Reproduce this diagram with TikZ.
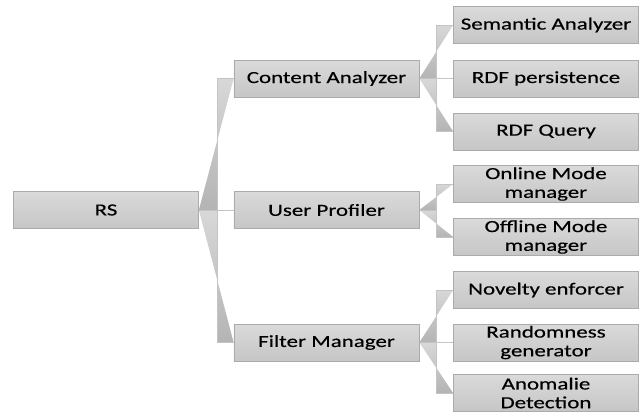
\documentclass[tikz,border=0pt]{standalone}
\usepackage{fontspec}
\newfontfamily\lbl[FakeStretch=1.35,FakeBold=0.4]{Carlito}
\usetikzlibrary{backgrounds}
\definecolor{boxtop}{HTML}{DADADA}
\definecolor{boxbot}{HTML}{C6C6C6}
\definecolor{boxline}{HTML}{ABABAB}
\definecolor{contop}{HTML}{D8D8D8}
\definecolor{conbot}{HTML}{B4B4B4}
\definecolor{conline}{HTML}{C4C4C4}
\tikzset{
  box/.style={draw=boxline, line width=0.6pt, top color=boxtop, bottom color=boxbot,
    minimum width=5.55cm, minimum height=1.11cm, inner sep=0pt, align=center,
    font={\lbl\fontsize{14.5}{16}\selectfont}},
  conline/.style={draw=conline, line width=0.6pt},
  confill/.style={top color=contop, bottom color=conbot}
}
\newcommand\wedgeconn[3]{%
  \path[confill] (#1.east) -- (#1.east -| #3) -- (#3 |- #2.west) -- (#2.west) -- cycle;
  \draw[conline] (#1.east) -- (#1.east -| #3) -- (#3 |- #2.west) -- (#2.west);}
\newcommand\straightconn[2]{%
  \draw[conline] (#1.east) -- (#2.west);}
\begin{document}
\begin{tikzpicture}[x=0.03cm,y=-0.03cm]
\useasboundingbox (0,0) rectangle (644,412);
% level 0
\node[box] (rs) at (106,210) {RS};
% level 1
\node[box] (ca) at (326.5,78.5) {Content Analyzer};
\node[box] (up) at (326.5,210) {User Profiler};
\node[box] (fm) at (326.5,342.5) {Filter Manager};
% level 2
\node[box] (sa) at (546,25) {Semantic Analyzer};
\node[box] (rp) at (546,78.5) {RDF persistence};
\node[box] (rq) at (546,131.5) {RDF Query};
\node[box] (om) at (546,184) {Online Mode\\manager};
\node[box] (of) at (546,237) {Offline Mode\\manager};
\node[box] (ne) at (546,290) {Novelty enforcer};
\node[box] (rg) at (546,342.5) {Randomness\\generator};
\node[box] (ad) at (546,393) {Anomalie\\Detection};
\coordinate (m0) at (217,0);
\coordinate (m1) at (436,0);
\begin{scope}[on background layer]
\wedgeconn{rs}{ca}{m0}
\straightconn{rs}{up}
\wedgeconn{rs}{fm}{m0}
\wedgeconn{ca}{sa}{m1}
\straightconn{ca}{rp}
\wedgeconn{ca}{rq}{m1}
\wedgeconn{up}{om}{m1}
\wedgeconn{up}{of}{m1}
\wedgeconn{fm}{ne}{m1}
\straightconn{fm}{rg}
\wedgeconn{fm}{ad}{m1}
\end{scope}
\end{tikzpicture}
\end{document}
